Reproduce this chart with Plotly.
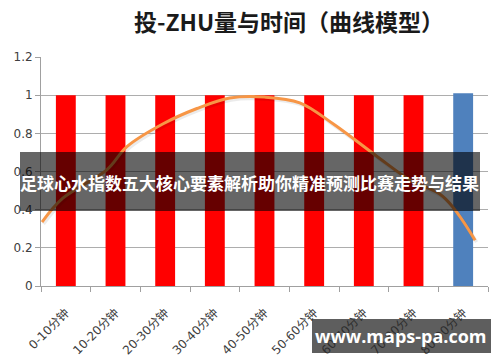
import plotly.graph_objects as go

# ---- data ----
categories = ["0-10分钟", "10-20分钟", "20-30分钟", "30-40分钟", "40-50分钟",
              "50-60分钟", "60-70分钟", "70-80分钟", "80-90分钟"]
bar_values = [1, 1, 1, 1, 1, 1, 1, 1, 1.01]
bar_colors = ["#FF0000"] * 8 + ["#4F81BD"]

# smooth curve sampled along the category axis (position in category units)
curve_pos = [-0.48, -0.06, 0.83, 1.23, 1.96, 2.64, 3.3, 4.0, 4.71, 5.38, 6.26, 6.93, 7.59, 8.24]
curve_val = [0.335, 0.46, 0.61, 0.73, 0.85, 0.93, 0.985, 0.99, 0.96, 0.85, 0.68, 0.555, 0.47, 0.24]

y_ticks = [0, 0.2, 0.4, 0.6, 0.8, 1, 1.2]
y_ticklabels = ["0", "0.2", "0.4", "0.6", "0.8", "1", "1.2"]

title_text = "投-ZHU量与时间（曲线模型）"
banner_text = "足球心水指数五大核心要素解析助你精准预测比赛走势与结果"
watermark_text = "www.maps-pa.com"

# ---- layout geometry (pixels) ----
W, H = 500, 362
L, R, T, B = 41, 12, 57, 76
pw, ph = W - L - R, H - T - B

def px_x(p):
    return (p - L) / pw

def px_y(p):
    return (H - B - p) / ph

fig = go.Figure()
fig.add_trace(go.Bar(
    x=categories, y=bar_values, marker=dict(color=bar_colors, line=dict(width=0)),
    width=0.4, showlegend=False, hoverinfo="skip",
))
# soft shadow of line
fig.add_trace(go.Scatter(
    x=[p + 0.03 for p in curve_pos], y=[v - 0.01 for v in curve_val], xaxis="x2",
    mode="lines", line=dict(color="rgba(0,0,0,0.08)", width=3.5, shape="spline", smoothing=1.0),
    showlegend=False, hoverinfo="skip",
))
fig.add_trace(go.Scatter(
    x=curve_pos, y=curve_val, xaxis="x2",
    mode="lines", line=dict(color="#F79646", width=3, shape="spline", smoothing=1.0),
    showlegend=False, hoverinfo="skip",
))

x_tick_font = dict(family="DejaVu Sans, Noto Sans CJK SC", size=12, color="#404040")
y_tick_font = dict(family="DejaVu Sans, Noto Sans CJK SC", size=12, color="#404040")

fig.update_layout(
    width=W, height=H,
    margin=dict(l=L, r=R, t=T, b=B, autoexpand=False),
    paper_bgcolor="white", plot_bgcolor="white",
    title=dict(text=title_text, x=289 / W, xanchor="center", y=1 - 23 / H, yanchor="middle",
               font=dict(family="Noto Sans CJK SC", size=23, color="#1a1a1a", weight="bold")),
    xaxis=dict(type="category", range=[-0.5, 8.5], showgrid=False, automargin=False,
               showline=True, linecolor="#A0A0A0", linewidth=1,
               ticks="outside", ticklen=5, tickcolor="#A0A0A0", tickson="boundaries",
               tickangle=-45, tickfont=x_tick_font, ticklabelstandoff=14, fixedrange=True),
    xaxis2=dict(overlaying="x", range=[-0.5, 8.5], visible=False, fixedrange=True),
    yaxis=dict(range=[0, 1.2], tickvals=y_ticks, ticktext=y_ticklabels, automargin=False,
               showgrid=True, gridcolor="#ADADAD", gridwidth=1,
               showline=True, linecolor="#A0A0A0", linewidth=1,
               ticks="outside", ticklen=5, tickcolor="#A0A0A0",
               tickfont=y_tick_font, zeroline=False, fixedrange=True),
    shapes=[
        dict(type="rect", xref="paper", yref="paper",
             x0=px_x(20), x1=px_x(480), y0=px_y(211), y1=px_y(152),
             fillcolor="rgba(0,0,0,0.6)", line=dict(width=0), layer="above"),
        dict(type="rect", xref="paper", yref="paper",
             x0=px_x(312), x1=px_x(491), y0=px_y(353), y1=px_y(319),
             fillcolor="rgba(40,40,40,0.75)", line=dict(width=0), layer="above"),
    ],
    annotations=[
        dict(text=banner_text, xref="paper", yref="paper", x=px_x(249), y=px_y(182),
             showarrow=False, xanchor="center", yanchor="middle",
             font=dict(family="Noto Sans CJK SC", size=17, color="white", weight="bold")),
        dict(text=watermark_text, xref="paper", yref="paper", x=px_x(401), y=px_y(336),
             showarrow=False, xanchor="center", yanchor="middle",
             font=dict(family="Open Sans, DejaVu Sans", size=18, color="white", weight="bold")),
    ],
)

fig.write_html("out.html", post_script="document.body.style.margin='0';",
               config={"displayModeBar": False})
